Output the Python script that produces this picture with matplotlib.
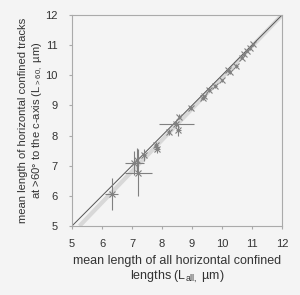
import numpy as np
import matplotlib.pyplot as plt

plt.rcParams['font.family'] = ['Liberation Sans', 'DejaVu Sans']

# mean lengths: all horizontal confined (x) vs. >60 deg to c-axis (y)
l_all = [6.32, 7.08, 7.21, 7.15, 7.40, 7.80, 7.83, 8.23, 8.47, 8.54, 8.57,
         8.96, 9.36, 9.40, 9.57, 9.77, 10.01, 10.21, 10.25, 10.47, 10.66,
         10.73, 10.82, 10.93, 11.04]
l_60 = [6.06, 7.09, 6.76, 7.20, 7.34, 7.70, 7.56, 8.11, 8.40, 8.20, 8.62,
        8.92, 9.26, 9.30, 9.51, 9.64, 9.83, 10.17, 10.12, 10.31, 10.59,
        10.70, 10.81, 10.89, 11.03]
err_all = [0.21, 0.32, 0.45, 0.05, 0.08, 0.06, 0.10, 0.05, 0.58, 0.08, 0.05,
           0.05, 0.06, 0.05, 0.05, 0.05, 0.04, 0.05, 0.05, 0.05, 0.05,
           0.04, 0.04, 0.04, 0.04]
err_60 = [0.53, 0.39, 0.78, 0.40, 0.20, 0.10, 0.15, 0.10, 0.10, 0.20, 0.08,
          0.08, 0.08, 0.06, 0.06, 0.06, 0.06, 0.06, 0.06, 0.06, 0.06,
          0.05, 0.05, 0.05, 0.05]

# 1:1 line and fitted trend
one_to_one = [5, 12]
fit_x = [5.25, 12]
fit_y = [5, 12]

bg = '#f4f4f4'
fig = plt.figure(figsize=(3.0, 2.95), dpi=100, facecolor=bg)
ax = fig.add_axes([0.24, 0.234, 0.70, 0.715], facecolor=bg)

ax.plot(fit_x, fit_y, color='#d8d8d8', lw=3.0, solid_capstyle='butt', zorder=1)
ax.plot(one_to_one, one_to_one, color='#555555', lw=0.7, zorder=2)
ax.errorbar(l_all, l_60, xerr=err_all, yerr=err_60, fmt='x', color='#808080',
            ms=4, mew=0.8, elinewidth=0.8, capsize=0, zorder=3)

ax.set_xlim(5, 12)
ax.set_ylim(5, 12)
ax.set_xticks(range(5, 13))
ax.set_yticks(range(5, 13))
for s in ax.spines.values():
    s.set_color('#aaaaaa')
    s.set_linewidth(0.8)
ax.tick_params(colors='#aaaaaa', labelcolor='#333333', labelsize=8, length=2.5, width=0.8)
ax.tick_params(axis='y', pad=8)
ax.tick_params(axis='x', pad=7)

ax.set_xlabel('mean length of all horizontal confined\nlengths (L$_{\\mathregular{all,}}$ \u00b5m)',
              fontsize=9, color='#333333', labelpad=4)
ax.set_ylabel('mean length of horizontal confined tracks\nat >60\u00b0 to the c-axis (L$_{\\mathregular{>60,}}$ \u00b5m)',
              fontsize=8.1, color='#333333')
ax.yaxis.set_label_coords(-0.13, 0.5)

fig.savefig('out.png', dpi=100, facecolor=bg)
